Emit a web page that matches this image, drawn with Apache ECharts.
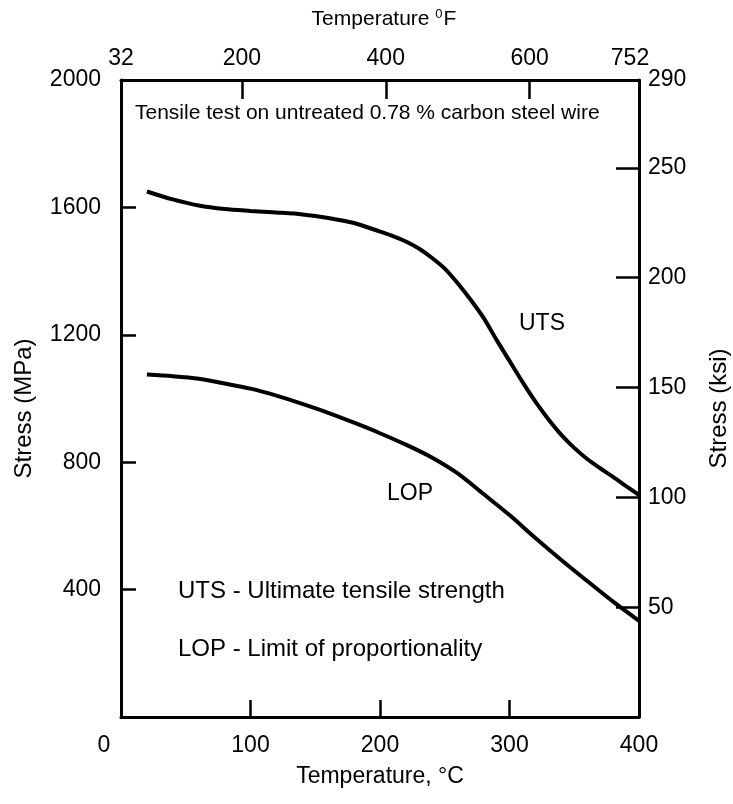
<!DOCTYPE html>
<html>
<head>
<meta charset="utf-8">
<script src="https://cdn.jsdelivr.net/npm/echarts@6/dist/echarts.min.js"></script>
<style>
  html, body { margin: 0; padding: 0; background: #fff; }
  #main { width: 733px; height: 804px; }
</style>
</head>
<body>
<div id="main"></div>
<script>
// values
var utsTemp = [20, 40, 60, 80, 100, 120, 140, 160, 180, 200, 210, 220, 230, 240, 250, 260, 270, 280, 290, 300, 310, 320, 330, 340, 350, 360, 370, 380, 390, 400]
var utsMPa = [1650, 1625, 1606, 1595, 1589, 1584, 1578, 1567, 1551, 1524, 1510, 1493, 1471, 1442, 1408, 1362, 1310, 1253, 1184, 1118, 1052, 990, 935, 886, 845, 810, 781, 754, 725, 697]
var lopTemp = [20, 40, 60, 80, 100, 120, 140, 160, 180, 200, 220, 240, 260, 280, 300, 320, 340, 360, 380, 400]
var lopMPa = [1075, 1070, 1062, 1047, 1031, 1009, 983, 955, 924, 891, 855, 815, 765, 700, 634, 562, 493, 427, 362, 302]

var cLabels = [0, 100, 200, 300, 400]
var fRange = [32, 752]      // same span as 0..400 degC
var fStep = 200             // 32, 200, 400, 600, 752
var mpaLabels = [400, 800, 1200, 1600, 2000]
var ksiLabels = [50, 100, 150, 200, 250, 290]
var ksiTicks = [50, 100, 150, 200, 250]

var FONT = '"Liberation Sans", Arial, Helvetica, sans-serif'

function zip(xs, ys) {
  return xs.map(function (x, i) { return [x, ys[i]] })
}
function plain(v) { return String(v) }

var line = { onZero: false, lineStyle: { color: '#000', width: 3 } }
var chart = echarts.init(document.getElementById('main'))

var option = {
  backgroundColor: '#fff',
  animation: false,
  textStyle: { fontFamily: FONT, color: '#000' },
  grid: { left: 121, right: 94, top: 80, bottom: 87, outerBoundsMode: 'none' },
  xAxis: [
    {
      type: 'value', position: 'bottom', min: 0, max: 400, interval: 100,
      axisLine: line,
      axisTick: { inside: true, length: 17, lineStyle: { color: '#000', width: 2.5 } },
      axisLabel: {
        customValues: cLabels, margin: 17, fontSize: 23, color: '#000', fontFamily: FONT,
        formatter: function (v) { return v === 0 ? '{z|0}' : String(v) },
        rich: { z: { padding: [0, 34, 0, 0], fontSize: 23, fontFamily: FONT, color: '#000' } }
      },
      splitLine: { show: false },
      name: 'Temperature, °C', nameLocation: 'middle', nameGap: 48,
      nameTextStyle: { fontSize: 23, color: '#000', fontFamily: FONT }
    },
    {
      type: 'value', position: 'top', min: fRange[0], max: fRange[1],
      splitNumber: 4, minInterval: fStep, maxInterval: fStep,
      axisLine: line,
      axisTick: { inside: true, length: 19, lineStyle: { color: '#000', width: 2.5 } },
      axisLabel: {
        margin: 10, fontSize: 23, color: '#000', fontFamily: FONT,
        showMinLabel: true, showMaxLabel: true,
        formatter: function (v) { return v === 752 ? '{b|752}' : String(v) },
        rich: { b: { padding: [0, 18, 0, 0], fontSize: 23, fontFamily: FONT, color: '#000' } }
      },
      splitLine: { show: false },
      name: 'Temperature {sup|0}F', nameLocation: 'middle', nameGap: 50,
      nameTextStyle: {
        fontSize: 21, color: '#000', fontFamily: FONT, padding: [0, 0, 0, 8],
        rich: { sup: { fontSize: 13, verticalAlign: 'top', padding: [0, 1, 9, 0], fontFamily: FONT, color: '#000' } }
      }
    }
  ],
  yAxis: [
    {
      type: 'value', position: 'left', min: 0, max: 2000, interval: 400,
      axisLine: line,
      axisTick: { inside: true, length: 15, lineStyle: { color: '#000', width: 2.5 } },
      axisLabel: { customValues: mpaLabels, margin: 20, fontSize: 23, color: '#000', fontFamily: FONT, formatter: plain },
      splitLine: { show: false },
      name: 'Stress (MPa)', nameLocation: 'middle', nameGap: 85,
      nameTextStyle: { fontSize: 24, color: '#000', fontFamily: FONT, padding: [0, 20, 0, 0] }
    },
    {
      type: 'value', position: 'right', min: 0, max: 290,
      axisLine: line,
      axisTick: { inside: true, length: 23, customValues: ksiTicks, lineStyle: { color: '#000', width: 2.5 } },
      axisLabel: { customValues: ksiLabels, margin: 9, fontSize: 23, color: '#000', fontFamily: FONT, formatter: plain },
      splitLine: { show: false },
      name: 'Stress (ksi)', nameLocation: 'middle', nameGap: 68,
      nameTextStyle: { fontSize: 24, color: '#000', fontFamily: FONT, padding: [0, 20, 0, 0] }
    }
  ],
  series: [
    {
      name: 'UTS', type: 'line', xAxisIndex: 0, yAxisIndex: 0,
      data: zip(utsTemp, utsMPa), smooth: 0.3, showSymbol: false,
      lineStyle: { color: '#000', width: 4 }
    },
    {
      name: 'LOP', type: 'line', xAxisIndex: 0, yAxisIndex: 0,
      data: zip(lopTemp, lopMPa), smooth: 0.3, showSymbol: false,
      lineStyle: { color: '#000', width: 4 }
    }
  ],
  graphic: [
    { type: 'text', left: 135, top: 103, style: { text: 'Tensile test on untreated 0.78 % carbon steel wire', fontSize: 21, fontFamily: FONT, fill: '#000' } },
    { type: 'text', left: 519, top: 312, style: { text: 'UTS', fontSize: 23, fontFamily: FONT, fill: '#000' } },
    { type: 'text', left: 387, top: 482, style: { text: 'LOP', fontSize: 23, fontFamily: FONT, fill: '#000' } },
    { type: 'text', left: 178, top: 579, style: { text: 'UTS - Ultimate tensile strength', fontSize: 24, fontFamily: FONT, fill: '#000' } },
    { type: 'text', left: 178, top: 637, style: { text: 'LOP - Limit of proportionality', fontSize: 24, fontFamily: FONT, fill: '#000' } }
  ]
}

option && chart.setOption(option)
</script>
</body>
</html>
